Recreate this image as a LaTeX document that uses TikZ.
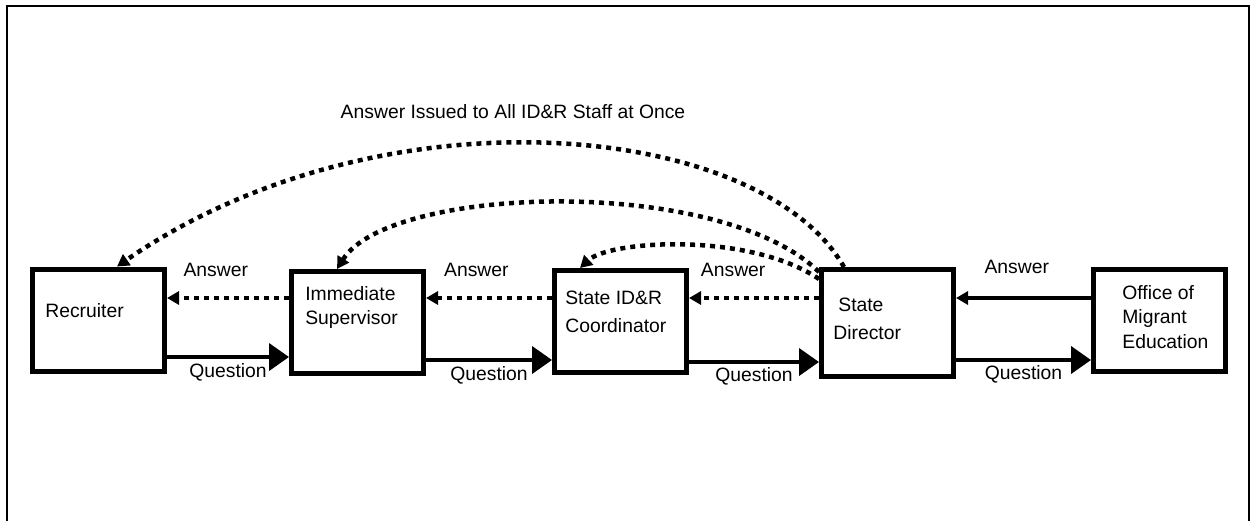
\documentclass[tikz,border=0pt]{standalone}
\usepackage{fontspec}
\setmainfont{Liberation Sans}
\usetikzlibrary{arrows.meta}
\tikzset{
  box/.style={draw,line width=1mm,minimum width=26.4mm,minimum height=20.4mm,inner sep=0pt},
  boxtext/.style={anchor=west,align=left,inner sep=0pt},
  lab/.style={inner sep=0pt},
  question/.style={line width=0.8mm,-{Triangle[length=4mm,width=5.4mm]}},
  answer/.style={line width=0.9mm,dash pattern=on 1mm off 1mm,-{Triangle[length=2.4mm,width=2.6mm]}},
  reply/.style={line width=0.8mm,-{Triangle[length=2.4mm,width=2.6mm]}},
}
\begin{document}
\begin{tikzpicture}[x=0.2mm,y=-0.2mm,every node/.style={font=\fontsize{11}{14}\selectfont}]
\useasboundingbox (0,0) rectangle (1251,521);
\draw[line width=0.4mm] (7,521) -- (7,6) -- (1249,6) -- (1249,521);

\node[box] (rec) at (98.5,320) {};
\node[box] (sup) at (357.5,322.5) {};
\node[box] (coord) at (620.5,321.5) {};
\node[box,minimum height=21.4mm] (dir) at (887.5,323) {};
\node[box] (ome) at (1159.5,320.5) {};

\node[boxtext] (rec-t) at (45,311) {Recruiter};
\node[boxtext] (sup-t) at (305,307.5) {Immediate\\Supervisor};
\node[boxtext,font=\fontsize{11}{16}\selectfont] (coord-t) at (565,312) {State ID\&R\\Coordinator};
\node[boxtext,font=\fontsize{11}{16}\selectfont] (dir-t) at (833,319) {\hspace{1mm}State\\Director};
\node[boxtext] (ome-t) at (1122,317) {Office of\\Migrant\\Education};

% questions go up the chain
\draw[question] (rec.east |- 0,357) -- node[lab,midway,yshift=-3mm] (q1) {Question} (sup.west |- 0,357);
\draw[question] (sup.east |- 0,360) -- node[lab,midway,yshift=-3mm] (q2) {Question} (coord.west |- 0,360);
\draw[question] (coord.east |- 0,362) -- node[lab,midway,yshift=-2.8mm] (q3) {Question} (dir.west |- 0,362);
\draw[question] (dir.east |- 0,360) -- node[lab,midway,yshift=-2.8mm] (q4) {Question} (ome.west |- 0,360);

% answers come back
\draw[reply] (ome.west |- 0,298) -- node[lab,pos=.55,yshift=6.2mm] (a4) {Answer} (dir.east |- 0,298);
\draw[answer] (dir.west |- 0,298) -- node[lab,pos=.66,yshift=5.6mm] (a3) {Answer} (coord.east |- 0,298);
\draw[answer] (coord.west |- 0,298) -- node[lab,pos=.6,yshift=5.6mm] (a2) {Answer} (sup.east |- 0,298);
\draw[answer] (sup.west |- 0,298) -- node[lab,pos=.6,yshift=5.6mm] (a1) {Answer} (rec.east |- 0,298);

\draw[answer] ([xshift=5mm]dir.north west) .. controls (760,120) and (380,85) .. ([xshift=3.7mm]rec.north);
\draw[answer] ([yshift=-1mm]dir.north west) .. controls (720,175) and (390,185) .. ([xshift=-4.1mm]sup.north);
\draw[answer] ([yshift=-2.4mm]dir.north west) .. controls (750,232) and (610,240) .. ([xshift=-8.1mm]coord.north);
\node[lab] (title) at (513,112) {Answer Issued to All ID\&R Staff at Once};
\end{tikzpicture}
\end{document}
